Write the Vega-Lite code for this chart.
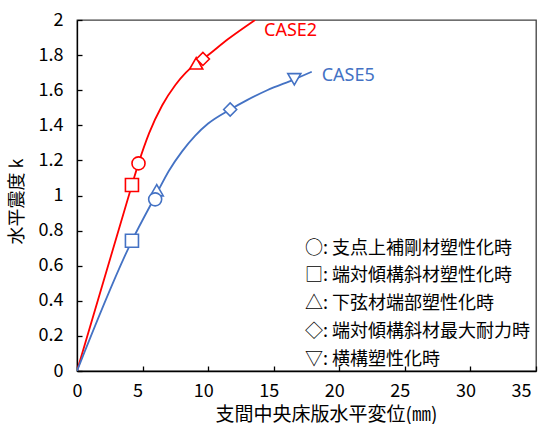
{
  "$schema": "https://vega.github.io/schema/vega-lite/v6.json",
  "width": 459,
  "height": 351,
  "autosize": {"type": "none"},
  "padding": {"left": 77, "top": 20, "right": 4, "bottom": 53},
  "background": "white",
  "config": {
    "view": {"stroke": "#404040", "strokeWidth": 1.3},
    "font": "Noto Sans CJK JP",
    "axis": {
      "grid": false,
      "domainColor": "#000000",
      "domainWidth": 1.3,
      "tickColor": "#000000",
      "tickWidth": 1.3,
      "tickSize": -5,
      "labelFont": "Noto Sans CJK JP",
      "labelFontSize": 18,
      "labelColor": "#000000",
      "titleFont": "Noto Sans CJK JP",
      "titleFontSize": 18,
      "titleFontWeight": "normal",
      "titleColor": "#000000"
    },
    "legend": {
      "symbolSize": 0,
      "symbolStrokeWidth": 0,
      "symbolOpacity": 0
    }
  },
  "datasets": {
    "curves": [
      {"series": "CASE2", "x": 0, "y": 0},
      {"series": "CASE2", "x": 4.19, "y": 1.06},
      {"series": "CASE2", "x": 4.69, "y": 1.183},
      {"series": "CASE2", "x": 5.5, "y": 1.355},
      {"series": "CASE2", "x": 6.5, "y": 1.514},
      {"series": "CASE2", "x": 7.5, "y": 1.63},
      {"series": "CASE2", "x": 8.3, "y": 1.70},
      {"series": "CASE2", "x": 9.09, "y": 1.753},
      {"series": "CASE2", "x": 9.6, "y": 1.778},
      {"series": "CASE2", "x": 11.5, "y": 1.89},
      {"series": "CASE2", "x": 13.58, "y": 2.0},
      {"series": "CASE5", "x": 0, "y": 0},
      {"series": "CASE5", "x": 4.19, "y": 0.742},
      {"series": "CASE5", "x": 6.0, "y": 1.0},
      {"series": "CASE5", "x": 7.0, "y": 1.14},
      {"series": "CASE5", "x": 8.0, "y": 1.25},
      {"series": "CASE5", "x": 9.0, "y": 1.34},
      {"series": "CASE5", "x": 10.0, "y": 1.41},
      {"series": "CASE5", "x": 11.68, "y": 1.49},
      {"series": "CASE5", "x": 13.0, "y": 1.545},
      {"series": "CASE5", "x": 14.5, "y": 1.6},
      {"series": "CASE5", "x": 16.57, "y": 1.662},
      {"series": "CASE5", "x": 17.9, "y": 1.705}
    ],
    "events": [
      {"series": "CASE2", "event": "下弦材端部塑性化時", "x": 9.09, "y": 1.753},
      {"series": "CASE2", "event": "端対傾構斜材最大耐力時", "x": 9.6, "y": 1.778},
      {"series": "CASE2", "event": "端対傾構斜材塑性化時", "x": 4.19, "y": 1.06},
      {"series": "CASE2", "event": "支点上補剛材塑性化時", "x": 4.69, "y": 1.183},
      {"series": "CASE5", "event": "下弦材端部塑性化時", "x": 6.08, "y": 1.03},
      {"series": "CASE5", "event": "横構塑性化時", "x": 16.57, "y": 1.662},
      {"series": "CASE5", "event": "端対傾構斜材最大耐力時", "x": 11.68, "y": 1.49},
      {"series": "CASE5", "event": "端対傾構斜材塑性化時", "x": 4.19, "y": 0.742},
      {"series": "CASE5", "event": "支点上補剛材塑性化時", "x": 5.96, "y": 0.978}
    ],
    "labels": [
      {"series": "CASE2", "x": 14.26, "y": 1.937},
      {"series": "CASE5", "x": 18.66, "y": 1.681}
    ]
  },
  "encoding": {
    "x": {
      "field": "x",
      "type": "quantitative",
      "scale": {"domain": [0, 35], "nice": false, "zero": false},
      "axis": {
        "values": [0, 5, 10, 15, 20, 25, 30, 35],
        "labelPadding": 16,
        "labelOffset": -5,
        "title": "支間中央床版水平変位(㎜)",
        "titleFontSize": 19,
        "titleX": 249,
        "titleY": 43,
        "titleAlign": "center",
        "titleBaseline": "middle"
      }
    },
    "y": {
      "field": "y",
      "type": "quantitative",
      "scale": {"domain": [0, 2], "nice": false, "zero": false},
      "axis": {
        "values": [0, 0.2, 0.4, 0.6, 0.8, 1, 1.2, 1.4, 1.6, 1.8, 2],
        "format": ".1~f",
        "labelPadding": 19,
        "title": "水平震度 k",
        "titleAngle": 270,
        "titleX": -60,
        "titleY": 181,
        "titleAlign": "center",
        "titleBaseline": "middle"
      }
    }
  },
  "layer": [
    {
      "data": {"name": "curves"},
      "mark": {"type": "line", "interpolate": "monotone", "strokeWidth": 1.8, "clip": true},
      "encoding": {
        "color": {
          "field": "series",
          "type": "nominal",
          "scale": {"domain": ["CASE2", "CASE5"], "range": ["#FF0000", "#4472C4"]},
          "legend": null
        }
      }
    },
    {
      "data": {"name": "events"},
      "mark": {"type": "point", "filled": true, "size": 170, "strokeWidth": 1.6, "opacity": 1},
      "encoding": {
        "fill": {"value": "#ffffff"},
        "stroke": {
          "field": "series",
          "type": "nominal",
          "scale": {"domain": ["CASE2", "CASE5"], "range": ["#FF0000", "#4472C4"]},
          "legend": null
        },
        "shape": {
          "field": "event",
          "type": "nominal",
          "scale": {
            "domain": ["支点上補剛材塑性化時", "端対傾構斜材塑性化時", "下弦材端部塑性化時", "端対傾構斜材最大耐力時", "横構塑性化時"],
            "range": ["circle", "square", "triangle-up", "diamond", "triangle-down"]
          },
          "legend": {
            "orient": "none",
            "legendX": 210,
            "legendY": 219.5,
            "title": null,
            "padding": 0,
            "labelFont": "Noto Sans CJK JP",
            "labelFontSize": 18,
            "labelColor": "#000000",
            "labelLimit": 400,
            "labelOffset": 0,
            "rowPadding": 9.9,
            "symbolSize": 0,
            "labelExpr": "(datum.label == '支点上補剛材塑性化時' ? '○' : datum.label == '端対傾構斜材塑性化時' ? '□' : datum.label == '下弦材端部塑性化時' ? '△' : datum.label == '端対傾構斜材最大耐力時' ? '◇' : '▽') + ': ' + datum.label"
          }
        }
      }
    },
    {
      "data": {"name": "labels"},
      "mark": {"type": "text", "align": "left", "baseline": "middle", "font": "Noto Sans", "fontSize": 18},
      "encoding": {
        "text": {"field": "series"},
        "color": {
          "field": "series",
          "type": "nominal",
          "scale": {"domain": ["CASE2", "CASE5"], "range": ["#FF0000", "#4472C4"]},
          "legend": null
        }
      }
    }
  ]
}
